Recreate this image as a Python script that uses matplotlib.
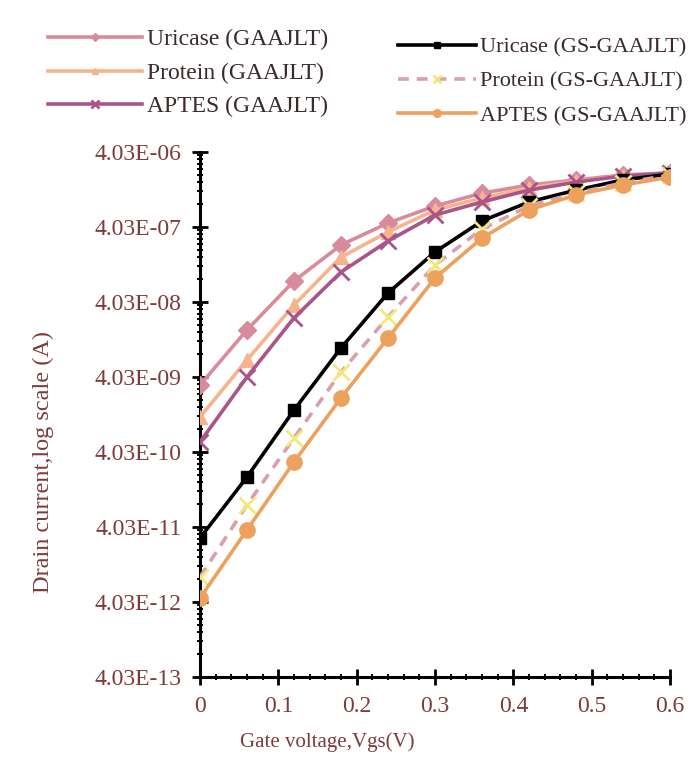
import matplotlib
matplotlib.use("Agg")
import matplotlib.pyplot as plt
from matplotlib.ticker import FixedLocator, MultipleLocator, FixedFormatter

# ---- data ----
vgs = [0.0, 0.06, 0.12, 0.18, 0.24, 0.30, 0.36, 0.42, 0.48, 0.54, 0.60]

uricase_gaajlt = [3.15e-9, 1.71e-8, 7.68e-8, 2.32e-7, 4.55e-7, 7.68e-7, 1.14e-6, 1.46e-6, 1.71e-6, 1.99e-6, 2.12e-6]
protein_gaajlt = [1.18e-9, 6.80e-9, 3.68e-8, 1.60e-7, 3.46e-7, 6.79e-7, 9.82e-7, 1.34e-6, 1.65e-6, 1.93e-6, 2.12e-6]
aptes_gaajlt = [5.48e-10, 4.03e-9, 2.47e-8, 1.01e-7, 2.62e-7, 5.82e-7, 8.69e-7, 1.25e-6, 1.60e-6, 1.93e-6, 2.12e-6]
uricase_gs = [2.87e-11, 1.87e-10, 1.46e-9, 9.83e-9, 5.31e-8, 1.87e-7, 4.85e-7, 8.69e-7, 1.25e-6, 1.71e-6, 2.05e-6]
protein_gs = [8.68e-12, 7.92e-11, 6.20e-10, 4.70e-9, 2.54e-8, 1.25e-7, 3.79e-7, 7.68e-7, 1.14e-6, 1.56e-6, 1.99e-6]
aptes_gs = [4.55e-12, 3.68e-11, 2.97e-10, 2.12e-9, 1.33e-8, 8.42e-8, 2.87e-7, 6.79e-7, 1.08e-6, 1.46e-6, 1.87e-6]

labels_left = ["Uricase (GAAJLT)", "Protein (GAAJLT)", "APTES (GAAJLT)"]
labels_right = ["Uricase (GS-GAAJLT)", "Protein (GS-GAAJLT)", "APTES (GS-GAAJLT)"]

ytick_vals = [4.03e-13, 4.03e-12, 4.03e-11, 4.03e-10, 4.03e-9, 4.03e-8, 4.03e-7, 4.03e-6]
ytick_labels = ["4.03E-13", "4.03E-12", "4.03E-11", "4.03E-10", "4.03E-09", "4.03E-08", "4.03E-07", "4.03E-06"]
xtick_vals = [0, 0.1, 0.2, 0.3, 0.4, 0.5, 0.6]
xtick_labels = ["0", "0.1", "0.2", "0.3", "0.4", "0.5", "0.6"]

plt.rcParams['font.family'] = ['Liberation Serif', 'DejaVu Serif']
label_color = "#7e3b3b"

fig = plt.figure(figsize=(6.91, 7.64), dpi=100)
ax = fig.add_axes([200/691, 1-677/764, 470/691, 525/764])

lw = 2.6
h1, = ax.plot(vgs, uricase_gaajlt, color="#d98b9e", lw=lw, marker="D", ms=9, zorder=3)
h2, = ax.plot(vgs, protein_gaajlt, color="#f6b48e", lw=lw, marker="^", ms=10, zorder=3)
h3, = ax.plot(vgs, aptes_gaajlt, color="#a9558a", lw=lw, marker="x", ms=12, mew=2, zorder=3)
h4, = ax.plot(vgs, uricase_gs, color="#000000", lw=lw, marker="s", ms=9, zorder=4)
h5, = ax.plot(vgs, protein_gs, color="#d9a0ab", lw=lw, ls=(0, (3, 2.2)), marker="x", ms=11, mew=2,
              mec="#f3e878", mfc="#f3e878", zorder=4)
h6, = ax.plot(vgs, aptes_gs, color="#eca25e", lw=lw, marker="o", ms=11, zorder=4)

ax.set_yscale("log")
ax.set_ylim(4.03e-13, 4.03e-6)
ax.set_xlim(0, 0.6)

ax.yaxis.set_major_locator(FixedLocator(ytick_vals))
ax.yaxis.set_major_formatter(FixedFormatter(ytick_labels))
minors = [v * m for v in ytick_vals[:-1] for m in range(2, 10)]
ax.yaxis.set_minor_locator(FixedLocator(minors))
ax.yaxis.set_minor_formatter(FixedFormatter([""] * len(minors)))

ax.xaxis.set_major_locator(FixedLocator(xtick_vals))
ax.xaxis.set_major_formatter(FixedFormatter(xtick_labels))
ax.xaxis.set_minor_locator(MultipleLocator(0.02))

for s in ["top", "right"]:
    ax.spines[s].set_visible(False)
for s in ["left", "bottom"]:
    ax.spines[s].set_linewidth(2.2)
    ax.spines[s].set_color("black")

ax.tick_params(axis="both", which="major", direction="inout", length=11, width=2, colors="black",
               labelcolor=label_color, labelsize=17)
ax.tick_params(axis="both", which="minor", direction="inout", length=5, width=1.4, colors="black")
ax.tick_params(axis="y", which="major", pad=8)
ax.tick_params(axis="x", which="major", pad=8)

ax.set_ylabel("Drain current,log scale (A)", fontsize=17.5, color=label_color)
ax.yaxis.set_label_coords(-0.31, 0.41)
ax.set_xlabel("Gate voltage,Vgs(V)", fontsize=15, color=label_color)
ax.xaxis.set_label_coords(0.27, -0.105)

leg1 = fig.legend([h1, h2, h3], labels_left, loc="upper left", bbox_to_anchor=(48/691, 1-29/764),
                  frameon=False, fontsize=17, handlelength=4.0, handletextpad=0.2, labelspacing=0.5,
                  borderpad=0, borderaxespad=0, markerscale=0.5)
leg2 = fig.legend([h4, h5, h6], labels_right, loc="upper left", bbox_to_anchor=(398/691, 1-37/764),
                  frameon=False, fontsize=16, handlelength=3.5, handletextpad=0.2, labelspacing=0.62,
                  borderpad=0, borderaxespad=0, markerscale=0.5)
for leg in (leg1, leg2):
    for t in leg.get_texts():
        t.set_color("#3a2a2a")

fig.savefig("out.png", dpi=100, facecolor="white")
